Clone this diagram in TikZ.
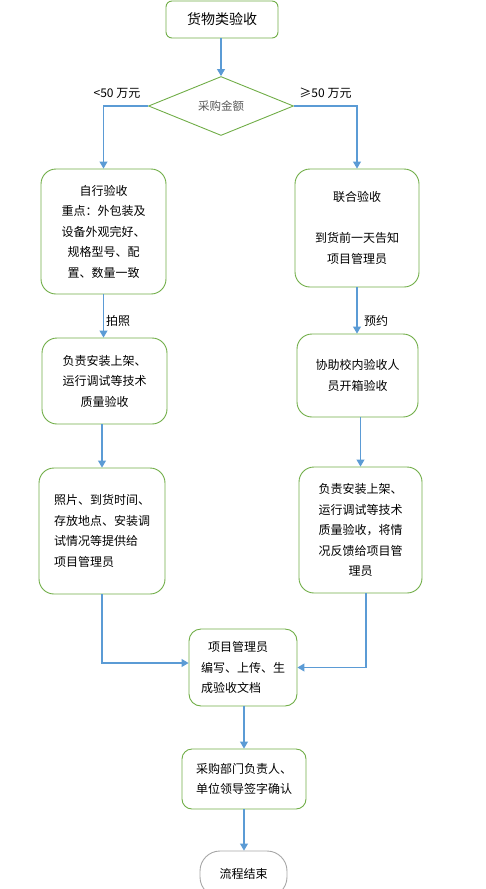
\documentclass[tikz,border=0pt]{standalone}
\usepackage{fontspec}
\usepackage{xcolor}
\usetikzlibrary{arrows.meta,shapes.geometric}
\newfontfamily\cjk{Noto Sans CJK SC}
\definecolor{leaf}{HTML}{70AD47}
\definecolor{sky}{HTML}{5B9BD5}
\definecolor{ash}{HTML}{A6A6A6}
\definecolor{bk60}{HTML}{595959}
\tikzset{
  procbox/.style={
    rectangle, draw=leaf, line width=0.9pt, rounded corners=#1,
    font=\cjk\fontsize{12}{20.5}\selectfont, align=center,
    inner sep=2pt
  },
  procbox/.default=15pt,
  decision/.style={
    diamond, draw=leaf, line width=0.9pt, aspect=2.46, inner sep=0pt,
    font=\cjk\fontsize{11.5}{14}\selectfont, text=bk60
  },
  endbox/.style={
    rectangle, draw=ash, line width=0.9pt, rounded corners=20pt,
    font=\cjk\fontsize{12}{14}\selectfont, align=center
  },
  flowarrow/.style={
    draw=sky, line width=1.1pt, -{Triangle[length=7pt,width=8pt]}
  },
  labelnode/.style={
    font=\cjk\fontsize{12}{14}\selectfont, inner sep=0pt
  },
}
\begin{document}
\begin{tikzpicture}[x=1pt,y=-1pt]
  \useasboundingbox (0,0) rectangle (486,889);
  \clip (0,0) rectangle (486,889);
  % Start and decision
  \node[procbox=6pt, minimum width=112pt, minimum height=37pt, font=\cjk\fontsize{14}{17}\selectfont] (start) at (222,19.5) {货物类验收};
  \node[decision, minimum width=145pt, minimum height=59pt] (amount) at (221,106) {采购金额};
  \node[labelnode] (lt) at (117,93) {<50 万元};
  \node[labelnode] (ge) at (325.5,93) {≥50 万元};
  \draw[flowarrow] (start.south -| amount.north) -- (amount.north);
  % Left branch
  \node[procbox, minimum width=125pt, minimum height=125pt] (self) at (103.5,231.5) {自行验收\\重点：外包装及\\设备外观完好、\\规格型号、配\\置、数量一致};
  \node[procbox, minimum width=125pt, minimum height=86pt] (install) at (104.5,381) {负责安装上架、\\运行调试等技术\\质量验收};
  \node[procbox, minimum width=126pt, minimum height=126pt, align=left] (report) at (102,531) {照片、到货时间、\\存放地点、安装调\\试情况等提供给\\项目管理员};
  \node[labelnode, anchor=west] (photo) at (106,321) {拍照};
  \draw[flowarrow] (amount.west) -| (self.north);
  \draw[flowarrow] (self.south) -- (self.south |- install.north);
  \draw[flowarrow] (report.north |- install.south) -- (report.north);
  % Right branch
  \node[procbox, minimum width=124pt, minimum height=118pt] (joint) at (357,228) {联合验收\\[20.5pt]到货前一天告知\\项目管理员};
  \node[procbox, minimum width=121pt, minimum height=83pt] (assist) at (357.5,375.5) {协助校内验收人\\员开箱验收};
  \node[procbox, minimum width=123pt, minimum height=126pt] (feedback) at (360.5,530) {负责安装上架、\\运行调试等技术\\质量验收，将情\\况反馈给项目管\\理员};
  \node[labelnode, anchor=west] (book) at (364,321) {预约};
  \draw[flowarrow] (amount.east) -| (joint.north);
  \draw[flowarrow] (joint.south) -- (joint.south |- assist.north);
  \draw[flowarrow] (assist.south -| feedback.north) -- (feedback.north);
  % Merge and finish
  \node[procbox=12pt, minimum width=108pt, minimum height=77pt, align=left] (pm) at (243,667.5) {\hspace{7pt}项目管理员\\编写、上传、生\\成验收文档};
  \node[procbox=10pt, minimum width=124pt, minimum height=60pt, align=left] (sign) at (244,779) {采购部门负责人、\\单位领导签字确认};
  \node[endbox, minimum width=87pt, minimum height=46pt] (finish) at (243.5,874) {流程结束};
  \draw[flowarrow] (report.south) |- ([yshift=4.5pt]pm.west);
  \draw[flowarrow] ([xshift=5.5pt]feedback.south) |- (pm.east);
  \draw[flowarrow] (pm.south -| sign.north) -- (sign.north);
  \draw[flowarrow] (sign.south) -- (sign.south |- finish.north);
\end{tikzpicture}
\end{document}
